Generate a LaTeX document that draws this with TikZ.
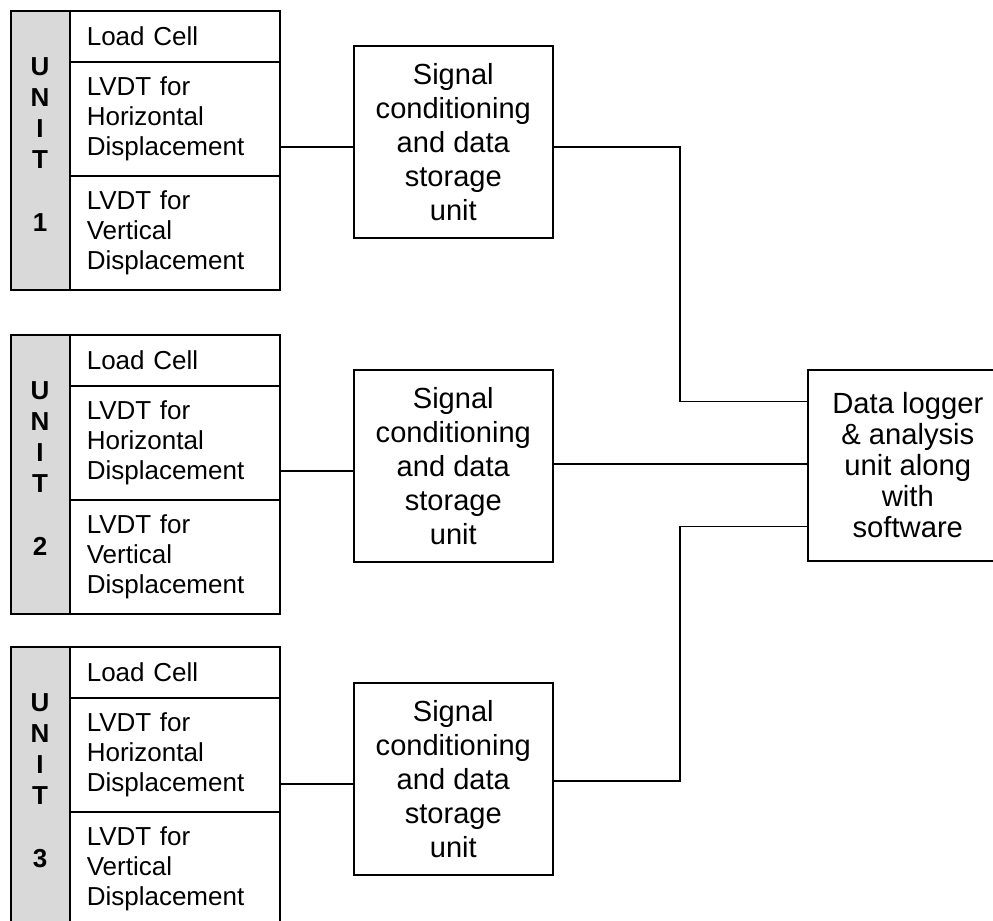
\documentclass[tikz,border=0pt]{standalone}
\usepackage{fontspec}
\setmainfont{Liberation Sans}
\definecolor{colgray}{HTML}{D9D9D9}
\begin{document}
\begin{tikzpicture}[x=0.75pt,y=-0.75pt,line width=1.2pt,
  cell/.style={draw,rectangle,anchor=north west,minimum width=157.5pt,
    inner xsep=12.75pt,inner ysep=0pt,text width=132pt,align=left,
    font=\fontsize{19.5}{22.5}\selectfont},
  colbox/.style={draw,rectangle,anchor=north west,fill=colgray,
    minimum width=44.25pt,minimum height=209.25pt,inner sep=0pt},
  coltext/.style={align=center,inner sep=0pt,
    font=\fontsize{19.5}{23.3}\selectfont\bfseries},
  sigbox/.style={draw,rectangle,anchor=north west,minimum width=149.25pt,
    minimum height=144pt,align=center,inner sep=0pt,
    font=\fontsize{21.8}{25.5}\selectfont},
  logbox/.style={draw,rectangle,anchor=north west,minimum width=150pt,
    minimum height=143.25pt,align=center,inner sep=0pt,
    font=\fontsize{21.9}{23.3}\selectfont}]
\useasboundingbox (0,0) rectangle (993,921);
\foreach \i/\t/\s in {1/10/45, 2/334/369, 3/646/682}{
  \node[colbox] (c\i) at (10,\t) {};
  \node[coltext] (t\i) at (40,\t+103) {U\\N\\I\\T};
  \node[coltext,anchor=base] (n\i) at (40,\t+221) {\i};
  \node[cell,minimum height=38.25pt] (u\i a) at (69,\t) {Load Cell};
  \node[cell,minimum height=85.5pt] (u\i b) at (69,\t+51) {LVDT for\\Horizontal\\Displacement};
  \node[cell,minimum height=85.5pt] (u\i c) at (69,\t+165) {LVDT for\\Vertical\\Displacement};
  \node[sigbox] (s\i) at (353,\s) {Signal\\conditioning\\and data\\storage\\unit};
  \draw ([yshift=-3.75pt]s\i.west) -- ([yshift=-3.75pt]s\i.west -| u\i b.east);
}
\node[logbox] (lg) at (807,369) {Data logger\\\& analysis\\unit along\\with\\software};
\coordinate (k1) at (680,147);
\coordinate (k3) at (680,781);
\draw (s1.east |- k1) -- (k1) |- ([yshift=48pt]lg.west);
\draw ([yshift=1.5pt]s2.east) -- ([yshift=1.5pt]s2.east -| lg.west);
\draw (s3.east |- k3) -- (k3) |- ([yshift=-46pt]lg.west);
\end{tikzpicture}
\end{document}
